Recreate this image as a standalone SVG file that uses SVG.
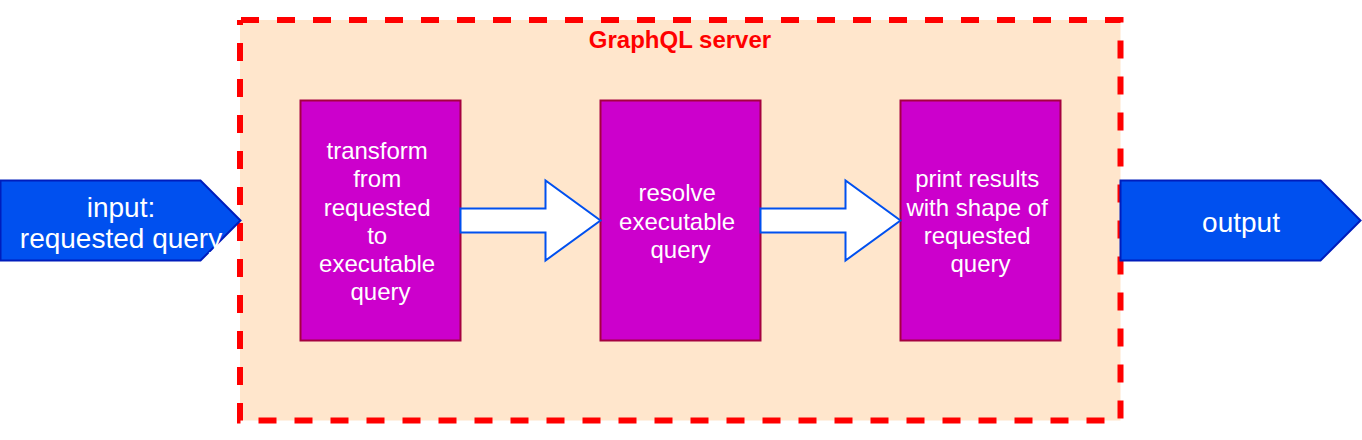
<svg xmlns="http://www.w3.org/2000/svg" width="1362" height="440" viewBox="0 0 1362 440">
  <style>
    .lbl { font-family: "Liberation Sans", Arial, Helvetica, sans-serif; fill: #FFFFFF; text-anchor: middle; }
    .box { fill: #CC00CC; stroke: #A50040; stroke-width: 2; }
    .io { fill: #0050EF; stroke: #001DBC; stroke-width: 2; }
    .arrow { fill: #FFFFFF; stroke: #0050EF; stroke-width: 2; stroke-linejoin: miter; }
    .title { font-family: "Liberation Sans", Arial, Helvetica, sans-serif; font-weight: bold; font-size: 24px; fill: #FF0000; text-anchor: middle; }
  </style>
  <rect width="1362" height="440" fill="#FFFFFF"/>

  <g id="server">
    <rect x="240" y="20" width="880.5" height="400.5" fill="#FFE6CC" stroke="#FF0000" stroke-width="6" stroke-dasharray="18 18" stroke-dashoffset="-1"/>
    <text class="title" x="680" y="48">GraphQL server</text>
  </g>

  <g id="input">
    <polygon class="io" points="0.5,180.5 200.5,180.5 240.5,220.5 200.5,260.5 0.5,260.5"/>
    <text class="lbl" font-size="28" x="121" y="217">input:</text>
    <text class="lbl" font-size="28" x="121" y="247.5">requested query</text>
  </g>

  <g id="transform">
    <rect class="box" x="300.5" y="100.5" width="160" height="240"/>
    <text class="lbl" font-size="24" x="380.5">
      <tspan x="380.5" y="159.1">transform</tspan>
      <tspan x="380.5" y="187.3">from</tspan>
      <tspan x="380.5" y="215.5">requested</tspan>
      <tspan x="380.5" y="243.7">to</tspan>
      <tspan x="380.5" y="271.9">executable</tspan>
      <tspan x="380.5" y="300.1">query</tspan>
    </text>
  </g>

  <g id="resolve">
    <rect class="box" x="600.5" y="100.5" width="160" height="240"/>
    <text class="lbl" font-size="24" x="680.5">
      <tspan x="680.5" y="201.4">resolve</tspan>
      <tspan x="680.5" y="229.6">executable</tspan>
      <tspan x="680.5" y="257.8">query</tspan>
    </text>
  </g>

  <g id="print">
    <rect class="box" x="900.5" y="100.5" width="160" height="240"/>
    <text class="lbl" font-size="24" x="980.5">
      <tspan x="980.5" y="187.3">print results</tspan>
      <tspan x="980.5" y="215.5">with shape of</tspan>
      <tspan x="980.5" y="243.7">requested</tspan>
      <tspan x="980.5" y="271.9">query</tspan>
    </text>
  </g>

  <g id="output">
    <polygon class="io" points="1120.5,180.5 1320.5,180.5 1360.5,220.5 1320.5,260.5 1120.5,260.5"/>
    <text class="lbl" font-size="28" x="1241" y="231.7">output</text>
  </g>

  <g id="connectors">
    <polygon class="arrow" points="460.5,208.5 545.5,208.5 545.5,180.5 600.5,220.5 545.5,260.5 545.5,232.5 460.5,232.5"/>
    <polygon class="arrow" points="760.5,208.5 845.5,208.5 845.5,180.5 900.5,220.5 845.5,260.5 845.5,232.5 760.5,232.5"/>
  </g>
</svg>
